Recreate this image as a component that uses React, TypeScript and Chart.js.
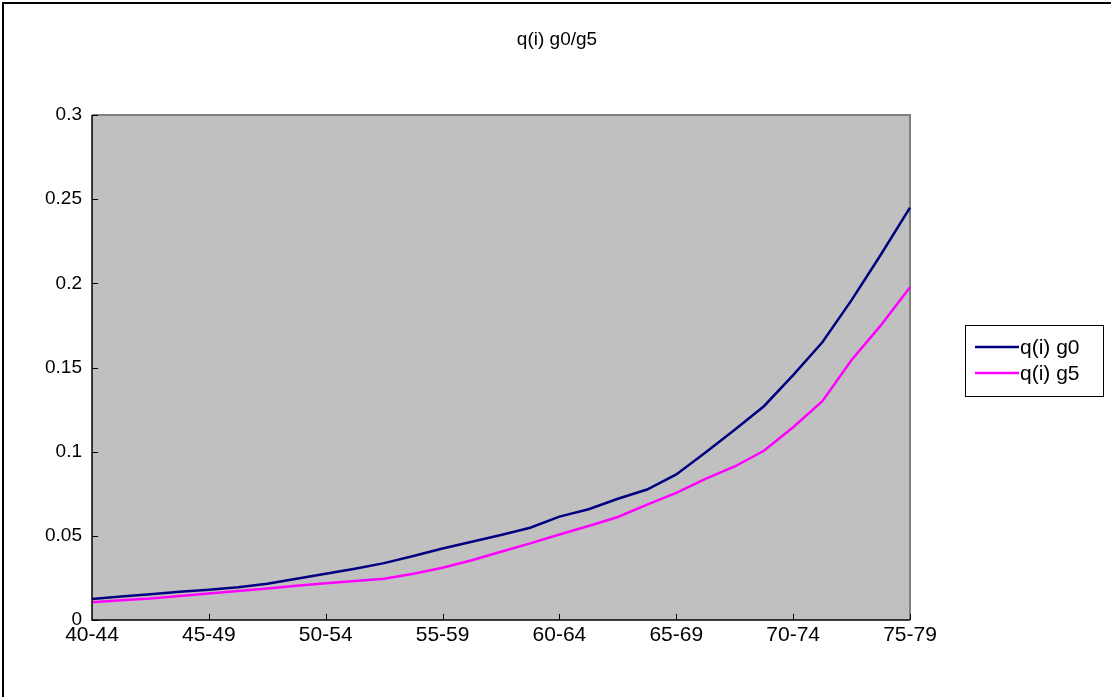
import React, { useEffect, useRef } from "react";
import { Chart, registerables } from "chart.js";

Chart.register(...registerables);

const title = "q(i) g0/g5";
const ageGroups = ["40-44", "45-49", "50-54", "55-59", "60-64", "65-69", "70-74", "75-79"];
const stepsPerGroup = 4;
const seriesNames = ["q(i) g0", "q(i) g5"];
const g0Values = [
  0.0125, 0.014, 0.0153, 0.0168, 0.018, 0.0195, 0.0215, 0.0245, 0.0275, 0.0305,
  0.0338, 0.038, 0.0425, 0.0465, 0.0505, 0.0548, 0.0614, 0.0658, 0.072, 0.0775,
  0.0865, 0.0995, 0.113, 0.127, 0.1455, 0.165, 0.19, 0.217, 0.245,
];
const g5Values = [
  0.0105, 0.0118, 0.0128, 0.0143, 0.0157, 0.0172, 0.0187, 0.0203, 0.0218, 0.0232,
  0.0245, 0.0275, 0.031, 0.0355, 0.0405, 0.0455, 0.0508, 0.0558, 0.0612, 0.0685,
  0.0755, 0.0838, 0.0912, 0.1005, 0.1145, 0.13, 0.1545, 0.175, 0.1977,
];
const yTicks = [0, 0.05, 0.1, 0.15, 0.2, 0.25, 0.3];

const categories: string[] = g0Values.map((_, i) =>
  i % stepsPerGroup === 0 ? ageGroups[i / stepsPerGroup] : ""
);

const FONT = "Liberation Sans, Arial, sans-serif";

const decorPlugin = {
  id: "decor",
  beforeDraw(chart: any) {
    const { ctx, chartArea: a } = chart;
    ctx.save();
    ctx.fillStyle = "#ffffff";
    ctx.fillRect(0, 0, chart.width, chart.height);
    ctx.strokeStyle = "#000";
    ctx.lineWidth = 2;
    ctx.strokeRect(3, 3, chart.width + 20, chart.height + 20);
    ctx.fillStyle = "#C0C0C0";
    ctx.fillRect(a.left, a.top, a.right - a.left, a.bottom - a.top);
    ctx.strokeStyle = "#808080";
    ctx.lineWidth = 2;
    ctx.beginPath();
    ctx.moveTo(a.left, a.top);
    ctx.lineTo(a.right, a.top);
    ctx.lineTo(a.right, a.bottom);
    ctx.stroke();
    ctx.fillStyle = "#000";
    ctx.font = `19px ${FONT}`;
    ctx.textAlign = "center";
    ctx.textBaseline = "middle";
    ctx.fillText(title, 557, 40);
    ctx.restore();
  },
  afterDatasetsDraw(chart: any) {
    const { ctx, chartArea: a } = chart;
    const xs = chart.scales.x;
    const ys = chart.scales.y;
    ctx.save();
    ctx.strokeStyle = "#000";
    ctx.lineWidth = 1.5;
    ctx.beginPath();
    ctx.moveTo(a.left, a.top);
    ctx.lineTo(a.left, a.bottom);
    ctx.lineTo(a.right, a.bottom);
    ctx.stroke();
    ctx.lineWidth = 1;
    ctx.beginPath();
    yTicks.forEach((v) => {
      const y = Math.round(ys.getPixelForValue(v)) + 0.5;
      ctx.moveTo(a.left, y);
      ctx.lineTo(a.left + 6, y);
    });
    categories.forEach((c, i) => {
      if (c === "" || i === 0) return;
      const x = Math.round(xs.getPixelForValue(i)) + 0.5;
      ctx.moveTo(x, a.bottom);
      ctx.lineTo(x, a.bottom - 6);
    });
    ctx.stroke();
    const lx = 965, ly = 325, lw = 138, lh = 71;
    ctx.fillStyle = "#fff";
    ctx.fillRect(lx, ly, lw, lh);
    ctx.strokeStyle = "#000";
    ctx.lineWidth = 1;
    ctx.strokeRect(lx + 0.5, ly + 0.5, lw, lh);
    ctx.font = `21px ${FONT}`;
    ctx.textAlign = "left";
    ctx.textBaseline = "middle";
    chart.data.datasets.forEach((ds: any, i: number) => {
      const y = ly + 22 + i * 26;
      ctx.strokeStyle = ds.borderColor;
      ctx.lineWidth = 2.5;
      ctx.beginPath();
      ctx.moveTo(lx + 10, y);
      ctx.lineTo(lx + 54, y);
      ctx.stroke();
      ctx.fillStyle = "#000";
      ctx.fillText(ds.label, lx + 55, y + 1);
    });
    ctx.restore();
  },
};

export default function App() {
  const ref = useRef<HTMLCanvasElement>(null);
  useEffect(() => {
    if (!ref.current) return;
    const chart = new Chart(ref.current, {
      type: "line",
      data: {
        labels: categories,
        datasets: [
          {
            label: seriesNames[0],
            data: g0Values,
            borderColor: "#000080",
            borderWidth: 2.5,
            pointRadius: 0,
            tension: 0,
          },
          {
            label: seriesNames[1],
            data: g5Values,
            borderColor: "#FF00FF",
            borderWidth: 2.5,
            pointRadius: 0,
            tension: 0,
          },
        ],
      },
      options: {
        animation: false,
        responsive: false,
        maintainAspectRatio: false,
        layout: { padding: { left: 0, top: 115, right: 201, bottom: 37 } },
        plugins: { legend: { display: false }, title: { display: false }, tooltip: { enabled: false } },
        scales: {
          x: {
            type: "category",
            offset: false,
            grid: { display: false, drawTicks: false },
            border: { display: false },
            ticks: {
              autoSkip: false,
              maxRotation: 0,
              minRotation: 0,
              padding: 3,
              color: "#000",
              font: { family: FONT, size: 21 },
            },
            afterFit(s: any) {
              s.height = 40;
            },
          },
          y: {
            min: 0,
            max: 0.3,
            grid: { display: false, drawTicks: false },
            border: { display: false },
            afterBuildTicks(s: any) {
              s.ticks = yTicks.map((v) => ({ value: v }));
            },
            ticks: {
              padding: 10,
              color: "#000",
              font: { family: FONT, size: 19 },
              callback: (v: any) => String(Math.round(Number(v) * 100) / 100),
            },
            afterFit(s: any) {
              s.width = 92;
            },
          },
        },
      },
      plugins: [decorPlugin],
    });
    return () => chart.destroy();
  }, []);
  return (
    <div style={{ position: "fixed", left: 0, top: 0, width: 1111, height: 697, background: "#fff" }}>
      <canvas ref={ref} width={1111} height={697} style={{ display: "block", width: 1111, height: 697 }} />
    </div>
  );
}
